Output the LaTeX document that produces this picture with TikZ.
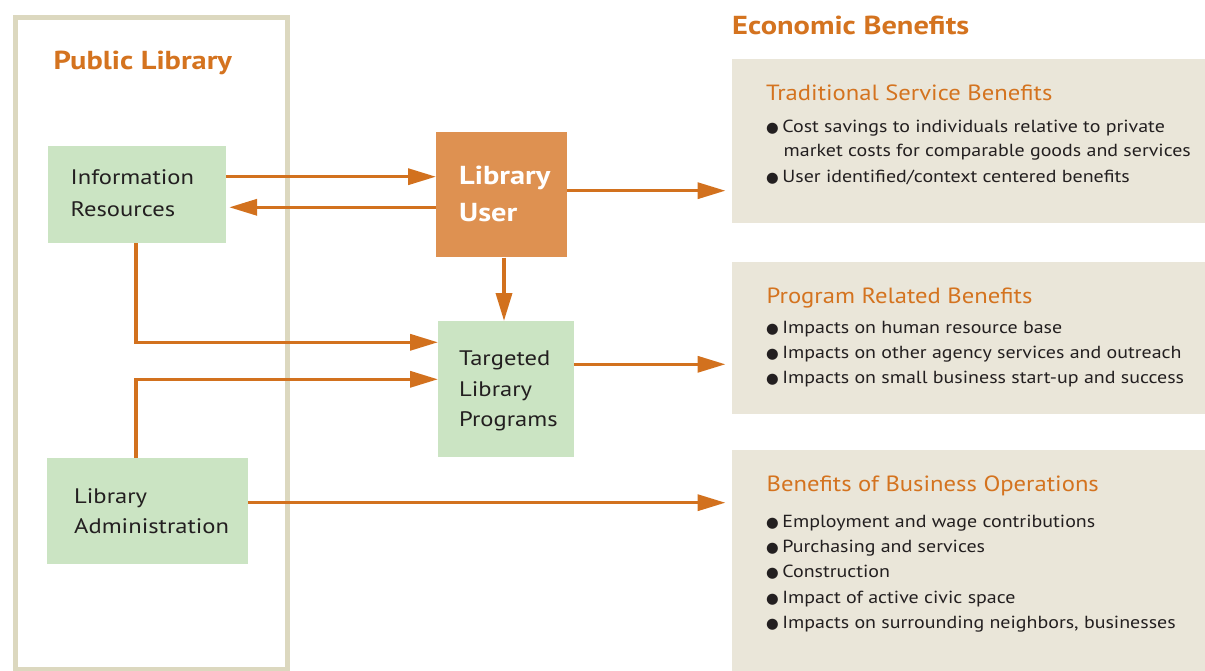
\documentclass[tikz,border=0pt]{standalone}
\usepackage{fontspec}
\setmainfont{PT Sans}[FakeStretch=1.17]
\newfontfamily\itemfont{PT Sans}[FakeStretch=1.14]
\newfontfamily\subfont{PT Sans}[FakeStretch=1.12]
\newfontfamily\bulfont{DejaVu Sans}
\usetikzlibrary{arrows.meta}
\definecolor{arr}{HTML}{D2711E}
\definecolor{head}{HTML}{D4731F}
\definecolor{greenf}{HTML}{CBE4C3}
\definecolor{beige}{HTML}{EAE6D9}
\definecolor{luf}{HTML}{DE9151}
\definecolor{framec}{HTML}{DCD8BF}
\definecolor{dark}{HTML}{231F20}
\newcommand{\bul}{{\bulfont\fontsize{14.5}{14}\selectfont ●}\hspace{3.5pt}}
\tikzset{
  flow/.style={draw=arr, line width=3.5pt, -{Triangle[length=28pt,width=16pt]}},
  gbox/.style={fill=greenf, inner sep=0pt, anchor=north west},
  bbox/.style={fill=beige, inner sep=0pt, anchor=north west},
  ubox/.style={fill=luf, inner sep=0pt, anchor=north west},
  txt/.style={anchor=base west, inner sep=0pt, text=dark, font=\fontsize{21}{25}\selectfont},
  lutxt/.style={anchor=base west, inner sep=0pt, text=white, font=\fontsize{26}{30}\selectfont\bfseries},
  bighead/.style={anchor=base west, inner sep=0pt, text=head, font=\fontsize{26}{30}\selectfont\bfseries},
  subhead/.style={anchor=base west, inner sep=0pt, text=head, font=\subfont\fontsize{22}{26}\selectfont},
  item/.style={anchor=base west, inner sep=0pt, text=dark, font=\itemfont\fontsize{17.5}{20}\selectfont},
}
\begin{document}
\begin{tikzpicture}[x=1pt,y=-1pt]
\useasboundingbox (0,0) rectangle (1205,671);
% frame
\node[draw=framec, line width=5.5pt, inner sep=0pt, anchor=north west, minimum width=272pt, minimum height=652pt] (pl) at (12.5,15) {};
\node[bighead] (plt) at (53.5,69.5) {Public Library};
% boxes
\node[gbox, minimum width=178pt, minimum height=97pt] (ir) at (47.8,146) {};
\node[txt] (ir1) at (70.5,185) {Information};
\node[txt] (ir2) at (70.5,217) {Resources};
\node[ubox, minimum width=130.7pt, minimum height=125.3pt] (lu) at (436,132) {};
\node[lutxt] (lu1) at (459,185) {Library};
\node[lutxt] (lu2) at (459,222) {User};
\node[gbox, minimum width=136pt, minimum height=135.7pt] (tlp) at (438,321) {};
\node[txt] (t1) at (459,365) {Targeted};
\node[txt] (t2) at (459,396.5) {Library};
\node[txt] (t3) at (459,426.5) {Programs};
\node[gbox, minimum width=201pt, minimum height=106pt] (la) at (47,458) {};
\node[txt] (la1) at (74,503) {Library};
\node[txt] (la2) at (74,533) {Administration};
% benefits
\node[bighead] (eb) at (732,35) {Economic Benefits};
\node[bbox, minimum width=473pt, minimum height=164pt] (b1) at (732,59) {};
\node[subhead] (b1h) at (766,101) {Traditional Service Benefits};
\node[item] (b1a) at (766,133) {\bul Cost savings to individuals relative to private};
\node[item] (b1b) at (783.5,157) {market costs for comparable goods and services};
\node[item] (b1c) at (766,183) {\bul User identified/context centered benefits};
\node[bbox, minimum width=473pt, minimum height=151.3pt] (b2) at (732,262) {};
\node[subhead] (b2h) at (766.5,303) {Program Related Benefits};
\node[item] (b2a) at (766,333) {\bul Impacts on human resource base};
\node[item] (b2b) at (766,358) {\bul Impacts on other agency services and outreach};
\node[item] (b2c) at (766,383) {\bul Impacts on small business start-up and success};
\node[bbox, minimum width=473pt, minimum height=221.7pt] (b3) at (732,449.3) {};
\node[subhead] (b3h) at (766.5,491.7) {Benefits of Business Operations};
\node[item] (b3a) at (766,527.3) {\bul Employment and wage contributions};
\node[item] (b3b) at (766,552.3) {\bul Purchasing and services};
\node[item] (b3c) at (766,577.7) {\bul Construction};
\node[item] (b3d) at (766,603.3) {\bul Impact of active civic space};
\node[item] (b3e) at (766,628.3) {\bul Impacts on surrounding neighbors, businesses};
% helper coordinates
\coordinate (ya) at (0,176.7);
\coordinate (yb) at (0,207.3);
\coordinate (yc) at (0,190.7);
\coordinate (yd) at (0,342.3);
\coordinate (ye) at (0,379.3);
\coordinate (yf) at (0,364.3);
\coordinate (yg) at (0,502.7);
\coordinate (xa) at (136,0);
\coordinate (xb) at (504,0);
% connectors
\draw[flow] (ir.east |- ya) -- (lu.west |- ya);
\draw[flow] (lu.west |- yb) -- ([xshift=3pt]ir.east |- yb);
\draw[flow] (lu.east |- yc) -- ([xshift=-6.5pt]b1.west |- yc);
\draw[flow] (lu.south -| xb) -- (tlp.north -| xb);
\draw[flow] (ir.south -| xa) |- (tlp.west |- yd);
\draw[flow] (la.north -| xa) |- (tlp.west |- ye);
\draw[flow] (tlp.east |- yf) -- ([xshift=-6.5pt]b2.west |- yf);
\draw[flow] (la.east |- yg) -- ([xshift=-6.5pt]b3.west |- yg);
\end{tikzpicture}
\end{document}
